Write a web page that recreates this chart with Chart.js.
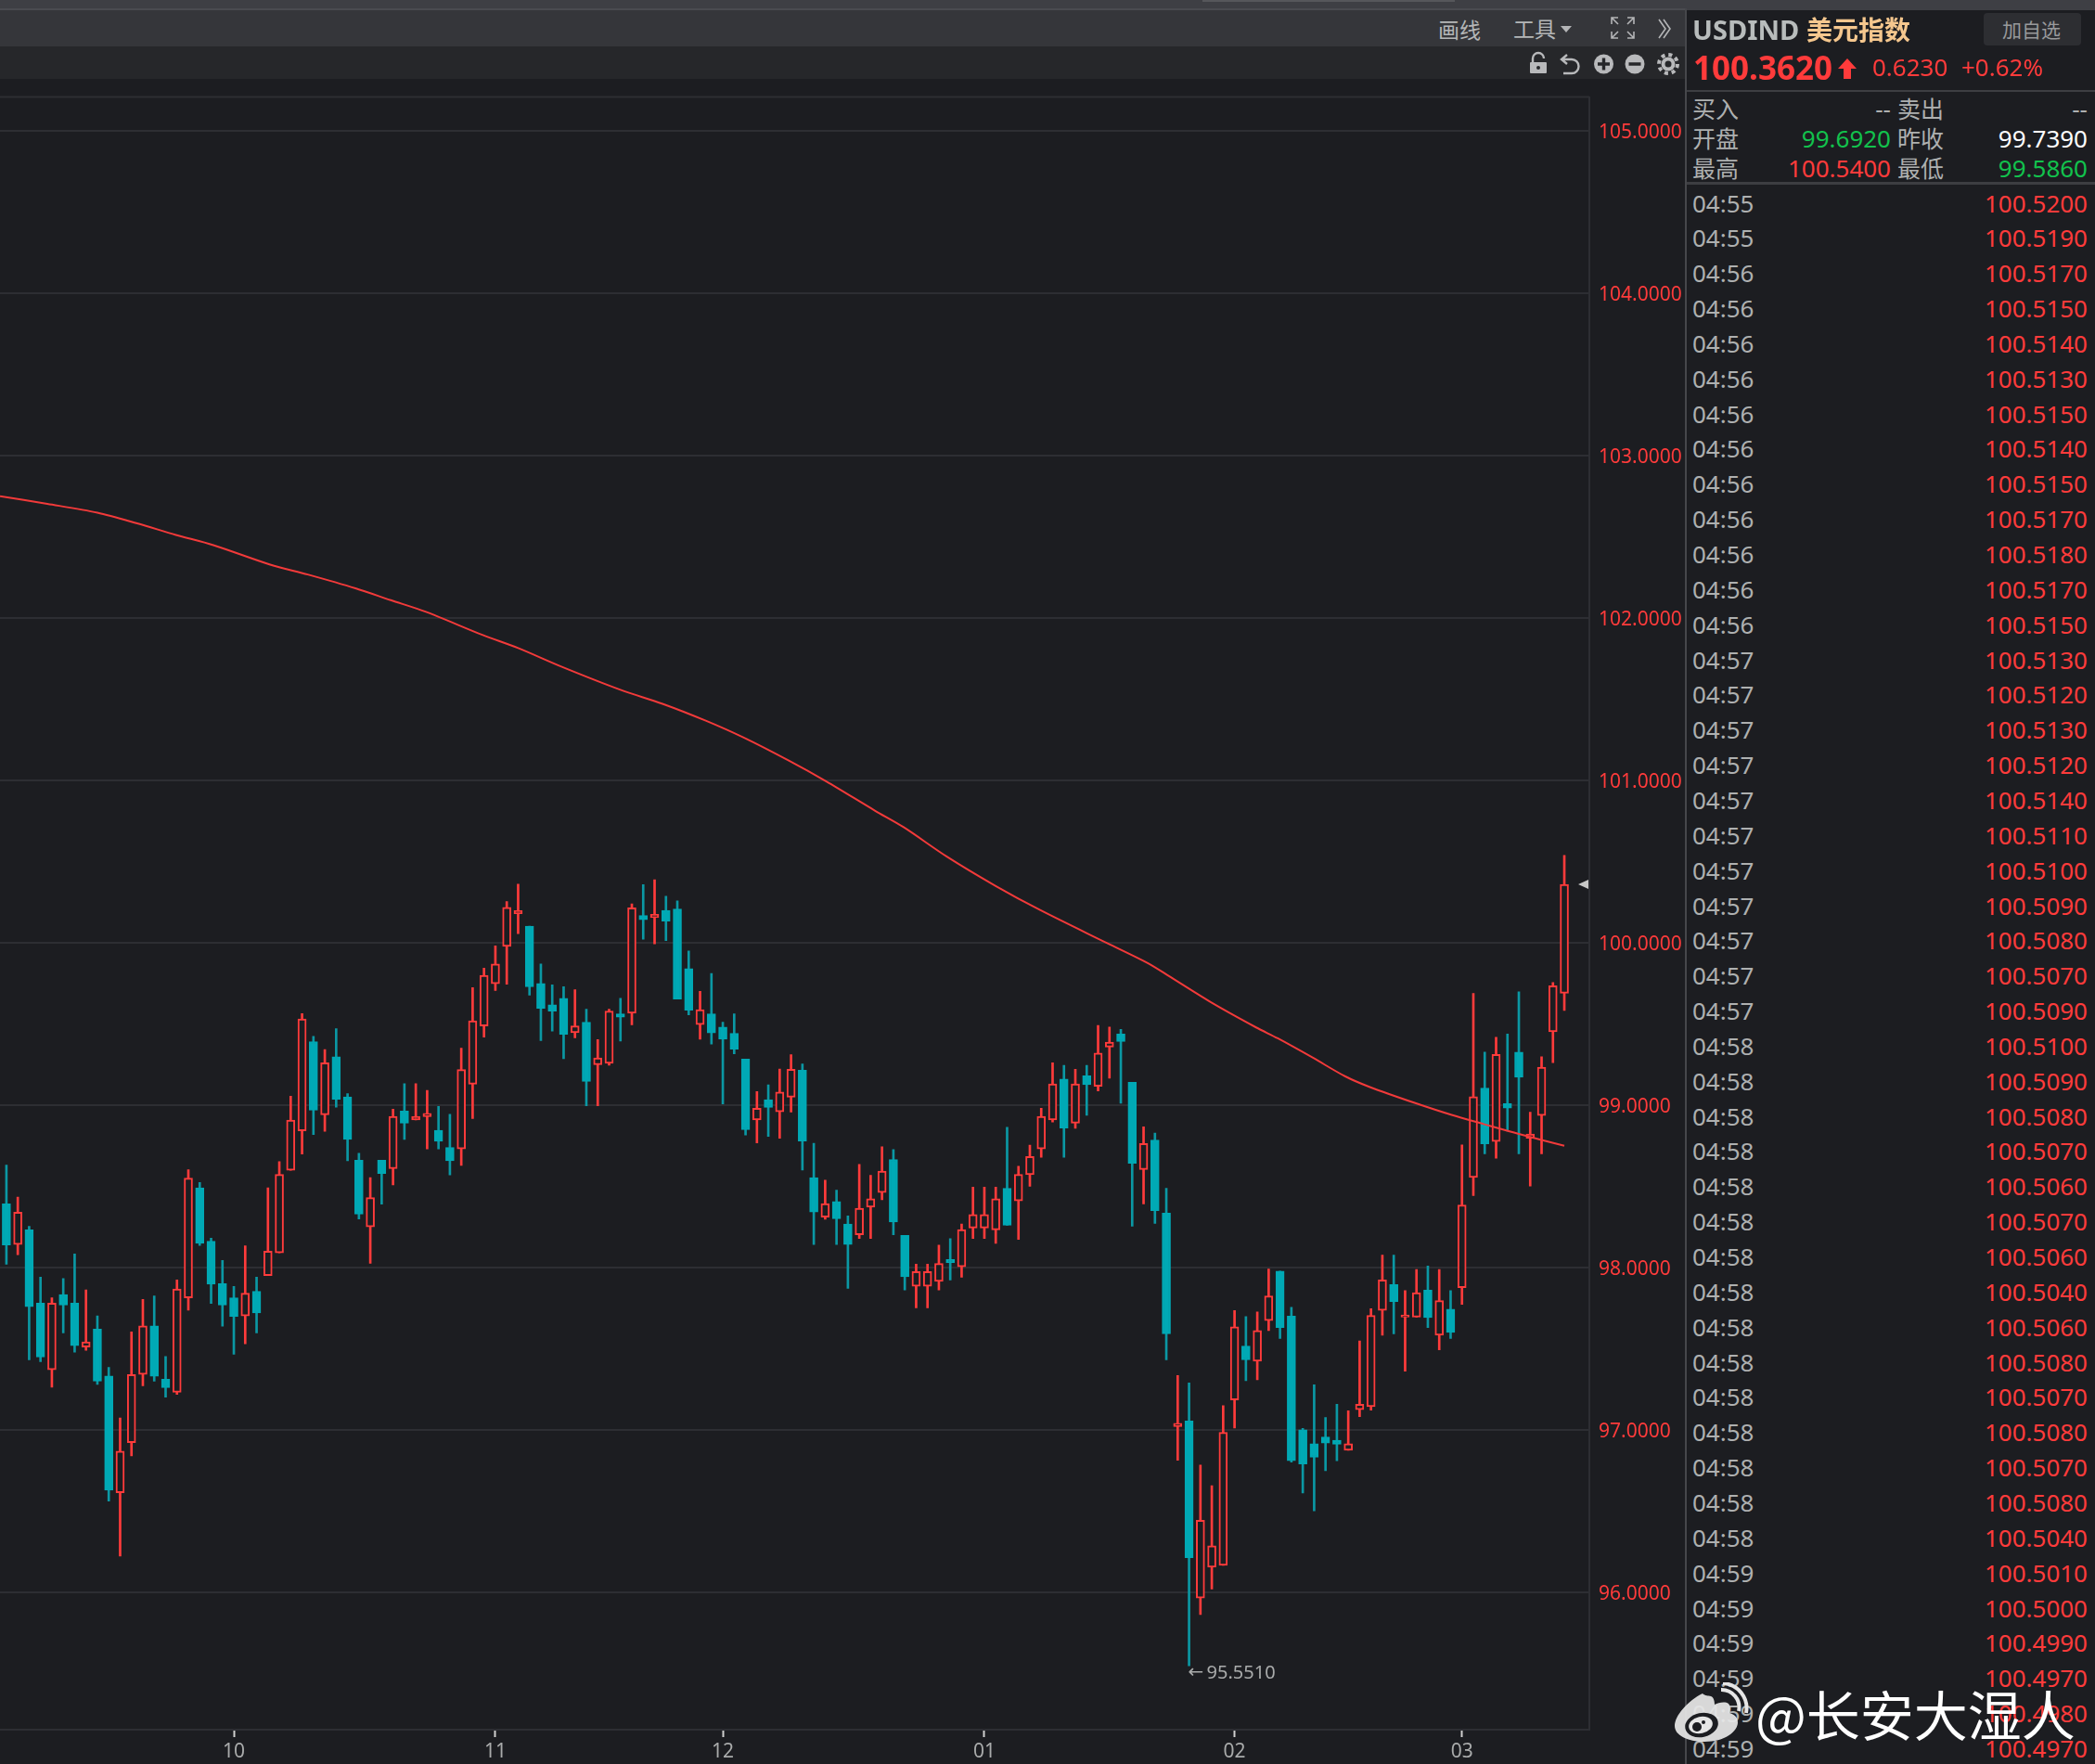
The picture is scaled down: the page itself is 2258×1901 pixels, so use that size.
<!DOCTYPE html>
<html><head><meta charset="utf-8">
<script src="https://cdn.jsdelivr.net/npm/chart.js@4"></script>
<style>
html,body{margin:0;padding:0;background:#1c1d21;width:2258px;height:1901px;overflow:hidden;font-family:'Noto Sans','Noto Sans CJK SC',sans-serif}
.a{position:absolute;white-space:nowrap}
.t{position:absolute;white-space:nowrap;line-height:1;transform:translateY(-50%)}
.r{position:absolute;white-space:nowrap;line-height:1;transform:translate(-100%,-50%)}
#wrap{position:absolute;left:0;top:82px;width:1816px;height:1819px}
</style></head><body>
<div class="a" style="left:0;top:0;width:2258px;height:9px;background:#3e3f44"></div>
<div class="a" style="left:1296px;top:0;width:272px;height:2px;background:#56575b"></div>
<div class="a" style="left:0;top:9px;width:1816px;height:2px;background:#4a4b50"></div>
<div class="a" style="left:1816px;top:9px;width:442px;height:2px;background:#3e3f44"></div>
<div class="a" style="left:0;top:11px;width:1816px;height:39px;background:#35363a"></div>
<div class="a" style="left:0;top:50px;width:1816px;height:35px;background:#26272a"></div>
<div id="wrap"><canvas id="c" width="1816" height="1819" style="width:1816px;height:1819px;display:block"></canvas></div>
<div class="a" style="left:1816px;top:9px;width:2px;height:1892px;background:#46474b"></div>
<div class="a" style="left:1818px;top:97px;width:440px;height:2px;background:#3d3e42"></div>
<div class="a" style="left:1818px;top:196px;width:440px;height:3px;background:#3d3e42"></div>

<div class="t" style="left:1550px;top:32px;font-size:23px;color:#b4b6b7">画线</div>
<div class="t" style="left:1631px;top:31px;font-size:23px;color:#b4b6b7">工具</div>
<svg class="a" style="left:0;top:0" width="1816" height="90" fill="none" stroke="#b4b5b7">
<path d="M1682 28h12l-6 7z" fill="#b4b5b7" stroke="none"/>
<g stroke-width="1.6"><path d="M1737 26v-7h7M1737 19l7 7M1761 26v-7h-7M1761 19l-7 7M1737 34v7h7M1737 41l7-7M1761 34v7h-7M1761 41l-7-7"/>
<path d="M1788 21l7 10-7 10M1793 21l7 10-7 10"/></g>
<g stroke="none" fill="#b8b9bb">
<rect x="1649" y="67" width="18" height="12" rx="1"/>
<circle cx="1728.5" cy="69" r="10.5"/><circle cx="1762" cy="69" r="10.5"/><circle cx="1798" cy="69" r="7.5"/></g>
<path d="M1652 67v-4a6 6 0 0 1 12 0" stroke="#b8b9bb" stroke-width="2.4"/>
<circle cx="1658" cy="73" r="2" fill="#26272a" stroke="none"/>
<path d="M1683 64h11a7.5 7.5 0 0 1 0 15h-9M1689 59l-6 5 6 5" stroke="#b8b9bb" stroke-width="2.4"/>
<path d="M1722 69h13M1728.5 62.500v13M1755.500 69h13" stroke="#26272a" stroke-width="3.4"/>
<circle cx="1798" cy="69" r="10" stroke="#b8b9bb" stroke-width="4" stroke-dasharray="4 3.850"/>
<circle cx="1798" cy="69" r="3.500" fill="#26272a" stroke="none"/>
</svg>

<div class="t" style="left:1824px;top:31px;font-size:29px;font-weight:700;color:#b8bcbc">USDIND</div>
<div class="t" style="left:1947px;top:31px;font-size:28px;font-weight:700;color:#f5c78e;font-family:'Noto Sans CJK SC'">美元指数</div>
<div class="a" style="left:2138px;top:14px;width:105px;height:35px;background:#2d2e32;border-radius:4px"></div>
<div class="t" style="left:2158px;top:31px;font-size:21px;color:#98999b;font-family:'Noto Sans CJK SC'">加自选</div>
<div class="t" style="left:1825px;top:72px;font-size:35px;font-weight:700;color:#ff3b3b">100.3620</div>
<svg class="a" style="left:1980px;top:62px" width="22" height="24"><path d="M11 1L21 12H15V23H7V12H1z" fill="#ff3b3b"/></svg>
<div class="t" style="left:2018px;top:72px;font-size:26px;color:#ff3b3b">0.6230</div>
<div class="t" style="left:2114px;top:72px;font-size:26px;color:#ff3b3b">+0.62%</div>
<div id="panel"></div>

<svg class="a" style="left:1805px;top:1813px;z-index:5" width="80" height="65">
<path d="M30 12C14 20 0 36 0 47c0 10 14 17 32 17 22 0 36-11 36-21 0-7-6-9-9-10 1-4 1-8-1-10-4-3-11-1-15 1 0-4-1-8-4-9-3-1-6 0-9-3z" fill="#e6e6e6" fill-opacity=".93"/>
<ellipse cx="29" cy="46" rx="18" ry="13" fill="#1c1d21" transform="rotate(-12 29 46)"/>
<ellipse cx="28" cy="46" rx="13" ry="9" fill="#e6e6e6" transform="rotate(-12 28 46)"/>
<circle cx="24" cy="48" r="5" fill="#1c1d21"/><circle cx="31" cy="43" r="2" fill="#1c1d21"/>
<path d="M50 8a19 19 0 0 1 19 23M52 1a27 27 0 0 1 25 32" fill="none" stroke="#e6e6e6" stroke-width="4"/>
</svg>
<div class="t" style="left:1892px;top:1846px;font-size:58px;color:#fff;z-index:5;font-family:'Noto Sans CJK SC'">@长安大湿人</div>

<script>
const high=[98.634,98.436,98.256,97.944,97.816,97.935,98.087,97.865,97.705,97.388,
97.076,97.606,97.807,97.828,97.455,97.927,98.605,98.526,98.183,98.046,
97.886,98.136,97.944,98.494,98.655,99.057,99.566,99.426,99.345,99.473,
99.074,98.707,98.556,98.663,98.978,99.135,99.135,99.094,98.995,98.946,
99.354,99.726,99.846,99.983,100.256,100.364,100.105,99.872,99.744,99.732,
99.713,99.593,99.406,99.593,99.661,100.242,100.361,100.390,100.289,100.261,
99.952,99.704,99.813,99.513,99.565,99.286,99.086,99.127,99.225,99.314,
99.256,98.768,98.540,98.479,98.320,98.638,98.570,98.746,98.729,98.200,
98.024,98.024,98.141,98.181,98.270,98.498,98.498,98.498,98.866,98.627,
98.757,98.984,99.264,99.247,99.223,99.247,99.493,99.484,99.469,99.143,
98.869,98.831,98.490,97.338,97.292,96.787,96.659,97.152,97.738,97.700,
97.729,97.994,97.980,97.758,97.012,97.280,97.079,97.160,97.120,97.551,
97.749,98.079,98.079,97.860,97.991,98.012,97.991,97.860,98.758,99.691,
99.329,99.420,99.440,99.700,98.959,99.300,99.758,100.540];
const low=[98.023,98.081,97.435,97.423,97.266,97.600,97.481,97.493,97.283,96.564,
96.226,96.843,97.274,97.303,97.204,97.222,97.740,98.139,97.781,97.641,
97.469,97.533,97.600,97.953,98.093,98.602,98.701,98.821,98.841,98.990,
98.660,98.302,98.029,98.393,98.512,98.792,98.911,98.733,98.733,98.573,
98.631,98.920,99.421,99.709,99.747,100.058,99.680,99.400,99.458,99.288,
99.417,98.999,98.999,99.249,99.397,99.497,100.024,99.996,100.015,99.656,
99.558,99.408,99.378,99.010,99.319,98.818,98.770,98.810,98.799,98.960,
98.603,98.144,98.300,98.144,97.874,98.181,98.181,98.420,98.205,97.865,
97.754,97.754,97.865,97.926,97.943,98.181,98.181,98.152,98.263,98.176,
98.503,98.681,98.899,98.681,98.860,98.940,99.090,99.169,99.015,98.257,
98.394,98.274,97.434,96.816,95.551,95.866,96.023,96.169,97.015,97.306,
97.312,97.615,97.566,96.805,96.615,96.504,96.752,96.813,96.878,97.085,
97.125,97.586,97.595,97.364,97.697,97.633,97.496,97.566,97.776,98.446,
98.703,98.676,98.843,98.703,98.504,98.703,99.265,99.586];
const open=[98.395,98.145,98.235,97.784,97.373,97.836,97.784,97.513,97.624,97.335,
96.616,96.925,97.344,97.644,97.315,97.234,97.816,98.494,98.165,97.903,
97.816,97.705,97.857,97.953,98.093,98.602,98.844,99.394,98.943,99.301,
99.054,98.663,98.253,98.663,98.611,98.966,98.911,98.931,98.847,98.742,
98.733,99.132,99.490,99.750,99.980,100.181,100.105,99.752,99.621,99.661,
99.449,99.513,99.251,99.260,99.565,99.569,100.170,100.157,100.202,100.211,
99.843,99.499,99.565,99.484,99.445,99.286,98.912,99.036,98.962,99.051,
99.217,98.557,98.313,98.409,98.270,98.205,98.374,98.464,98.668,98.200,
97.887,97.887,97.917,98.052,98.007,98.246,98.246,98.235,98.490,98.413,
98.575,98.733,98.912,99.164,98.892,99.184,99.119,99.360,99.440,99.143,
98.606,98.787,98.338,97.023,97.058,95.968,96.157,96.169,97.187,97.519,
97.426,97.676,97.980,97.703,97.003,96.918,96.959,96.939,96.878,97.128,
97.146,97.738,97.898,97.697,97.697,97.863,97.586,97.746,97.878,98.557,
99.108,98.778,99.012,99.329,98.799,98.939,99.455,99.692];
const close=[98.142,98.343,97.761,97.452,97.784,97.772,97.522,97.545,97.303,96.631,
96.872,97.344,97.644,97.333,97.263,97.871,98.553,98.151,97.900,97.772,
97.702,97.845,97.723,98.104,98.576,98.911,99.534,98.972,99.263,99.039,
98.792,98.331,98.433,98.582,98.934,98.891,98.934,98.952,98.780,98.660,
99.222,99.522,99.802,99.872,100.221,100.201,99.732,99.598,99.581,99.439,
99.491,99.149,99.293,99.582,99.545,100.218,100.144,100.178,100.135,99.656,
99.587,99.591,99.447,99.408,99.347,98.851,98.984,98.988,99.084,99.223,
98.781,98.344,98.396,98.303,98.144,98.368,98.427,98.596,98.283,97.946,
97.978,97.978,98.028,98.033,98.237,98.329,98.329,98.427,98.263,98.577,
98.686,98.934,99.134,98.862,99.134,99.129,99.323,99.391,99.394,98.644,
98.767,98.353,97.595,97.044,96.216,96.446,96.289,96.988,97.638,97.434,
97.615,97.828,97.633,96.813,96.793,96.834,96.921,96.915,96.918,97.160,
97.708,97.927,97.793,97.711,97.848,97.694,97.799,97.603,98.388,99.055,
98.764,99.315,98.985,99.175,98.825,99.236,99.737,100.362];
const maIndex=[-0.56,3.6,8,11.5,14.9,18.2,23.2,26.5,30.7,33.8,36.9,41.9,45,48.8,54,57.7,61.5,64.8,68.8,72.1,76.4,78.9,82.7,87,90.9,96.8,100.4,102.1,106,109.9,111.8,114.9,117.7,119.9,123.9,127.1,129.9,133,137];
const maValue=[102.752,102.705,102.651,102.585,102.514,102.451,102.331,102.27,102.185,102.112,102.04,101.897,101.817,101.703,101.56,101.474,101.37,101.267,101.124,100.996,100.815,100.714,100.533,100.352,100.204,100,99.876,99.803,99.633,99.481,99.414,99.294,99.181,99.114,99.015,98.942,98.886,98.825,98.752];
const xTickIndex=[20,43,63,86,108,128];
const xTickLabels=['10','11','12','01','02','03'];
const yTicks=[96,97,98,99,100,101,102,103,104,105];
const lowMarkIndex=104, lowMarkValue=95.551, lastPrice=100.362;

const times=['04:55','04:55','04:56','04:56','04:56','04:56','04:56','04:56','04:56','04:56','04:56','04:56','04:56',
'04:57','04:57','04:57','04:57','04:57','04:57','04:57','04:57','04:57','04:57','04:57',
'04:58','04:58','04:58','04:58','04:58','04:58','04:58','04:58','04:58','04:58','04:58','04:58','04:58','04:58','04:58',
'04:59','04:59','04:59','04:59','04:59','04:59'];
const prices=['100.5200','100.5190','100.5170','100.5150','100.5140','100.5130','100.5150','100.5140','100.5150','100.5170','100.5180','100.5170','100.5150',
'100.5130','100.5120','100.5130','100.5120','100.5140','100.5110','100.5100','100.5090','100.5080','100.5070','100.5090',
'100.5100','100.5090','100.5080','100.5070','100.5060','100.5070','100.5060','100.5040','100.5060','100.5080','100.5070','100.5080','100.5070','100.5080','100.5040',
'100.5010','100.5000','100.4990','100.4970','100.4980','100.4970'];

const RED='#ff3b3b',TEAL='#00a9b5',WICK='#0b98a4',BG='#1c1d21',GRID='#2d2e33',TXT='#aeb0b0',GREEN='#12c24d';
const panel=document.getElementById('panel');
function put(cls,x,y,size,color,text){const d=document.createElement('div');d.className=cls;d.style.cssText=`left:${x}px;top:${y}px;font-size:${size}px;color:${color}`;d.textContent=text;panel.appendChild(d);}
[['买入','--',TXT,'卖出','--',TXT,117],['开盘','99.6920',GREEN,'昨收','99.7390','#ffffff',149],['最高','100.5400',RED,'最低','99.5860',GREEN,181]].forEach(r=>{
 put('t',1824,r[6],25,TXT,r[0]);put('r',2038,r[6],26,r[2],r[1]);put('t',2045,r[6],25,TXT,r[3]);put('r',2250,r[6],26,r[5],r[4]);
});
times.forEach((t,i)=>{const y=218.5+i*37.85;put('t',1824,y,26,TXT,t);put('r',2250,y,26,RED,prices[i]);});

const up=i=>close[i]>=open[i];
const overlay={id:'overlay',
 beforeDatasetsDraw(ch){const a=ch.chartArea,c=ch.ctx;c.save();c.strokeStyle=GRID;c.lineWidth=2;c.beginPath();c.moveTo(a.left,a.top);c.lineTo(a.right,a.top);c.stroke();c.restore();},
 afterDatasetsDraw(ch){const c=ch.ctx,x=ch.scales.x,y=ch.scales.y;c.save();
  const mx=x.getPixelForValue(lowMarkIndex),my=y.getPixelForValue(lowMarkValue)+8;
  c.fillStyle='#a9abab';c.textAlign='left';c.textBaseline='middle';
  c.font="20px 'DejaVu Sans'";c.fillText('←',mx-1,my);
  c.font="20px 'Noto Sans'";c.fillText(lowMarkValue.toFixed(4),mx+19,my);
  const py=y.getPixelForValue(lastPrice),r=ch.chartArea.right;
  c.fillStyle='#c8c8c8';c.beginPath();c.moveTo(r-1,py-5);c.lineTo(r-1,py+5);c.lineTo(r-12,py);c.closePath();c.fill();c.restore();}
};
new Chart(document.getElementById('c'),{type:'bar',plugins:[overlay],
 data:{datasets:[
  {type:'line',order:0,data:maIndex.map((v,i)=>({x:v,y:maValue[i]})),borderColor:'#f23a3a',borderWidth:2,pointRadius:0,tension:0.3,fill:false},
  {order:1,grouped:false,barThickness:9,borderWidth:2,borderSkipped:false,
   data:open.map((v,i)=>({x:i,y:[v,close[i]]})),
   backgroundColor:open.map((v,i)=>up(i)?BG:TEAL),borderColor:open.map((v,i)=>up(i)?RED:TEAL)},
  {order:2,grouped:false,barThickness:2,borderWidth:0,
   data:high.map((v,i)=>({x:i,y:[low[i],v]})),
   backgroundColor:open.map((v,i)=>up(i)?RED:WICK)}
 ]},
 options:{responsive:false,animation:false,devicePixelRatio:1,
  layout:{padding:{top:5,left:0,right:0,bottom:0}},
  plugins:{legend:{display:false},tooltip:{enabled:false}},
  scales:{
   x:{type:'linear',offset:false,min:-0.563,max:139.2,
    afterBuildTicks(s){s.ticks=xTickIndex.map(v=>({value:v}));},
    afterFit(s){s.height=37;},
    border:{display:true,color:GRID,width:2},
    grid:{drawOnChartArea:false,drawTicks:true,tickLength:8,tickColor:'#d0d0d0',tickWidth:2,offset:false},
    ticks:{autoSkip:false,maxRotation:0,padding:3,color:'#a9abab',font:{size:21,family:"'Noto Sans'"},callback:v=>xTickLabels[xTickIndex.indexOf(v)]}},
   y:{type:'linear',position:'right',min:95.157,max:105.21,
    afterBuildTicks(s){s.ticks=yTicks.map(v=>({value:v}));},
    afterFit(s){s.width=103;},
    border:{display:true,color:GRID,width:2},
    grid:{color:GRID,lineWidth:2,drawTicks:false},
    ticks:{autoSkip:false,padding:10,labelOffset:2,color:RED,font:{size:21,family:"'Noto Sans'"},callback:v=>v.toFixed(4)}}
  }}
});
</script>
</body></html>
